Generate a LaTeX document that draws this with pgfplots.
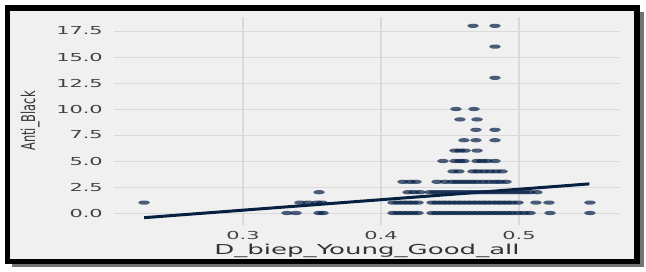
\documentclass[border=0pt]{standalone}
\usepackage{pgfplots}
\pgfplotsset{compat=1.18}
\usepackage{fontspec}
\setmainfont{DejaVu Sans}
\newfontfamily\tickfont[FakeStretch=1.9]{DejaVu Sans}
\newfontfamily\ylabfont[FakeStretch=0.6]{DejaVu Sans}
\definecolor{bg}{HTML}{F0F0F0}
\definecolor{gridc}{HTML}{D9D9D9}
\definecolor{dot}{RGB}{10,36,74}
\definecolor{fitline}{RGB}{6,32,66}
\definecolor{txt}{HTML}{444444}

\pgfplotstableread{
x y
0.4667 18
0.4826 18
0.4826 16
0.4826 13
0.4543 10
0.4674 10
0.4572 9
0.4696 9
0.4688 8
0.4826 8
0.4601 7
0.4688 7
0.4826 7
0.4536 6
0.4572 6
0.4609 6
0.4696 6
0.4449 5
0.4536 5
0.4572 5
0.4601 5
0.4696 5
0.4732 5
0.4768 5
0.4826 5
0.4522 4
0.4565 4
0.4667 4
0.4703 4
0.4746 4
0.4790 4
0.4833 4
0.4877 4
0.4159 3
0.4210 3
0.4254 3
0.4406 3
0.4464 3
0.4514 3
0.4551 3
0.4587 3
0.4623 3
0.4659 3
0.4696 3
0.4739 3
0.4783 3
0.4826 3
0.4862 3
0.4906 3
0.3551 2
0.4196 2
0.4239 2
0.4283 2
0.4355 2
0.4391 2
0.4428 2
0.4464 2
0.4500 2
0.4536 2
0.4572 2
0.4609 2
0.4645 2
0.4681 2
0.4717 2
0.4754 2
0.4790 2
0.4826 2
0.4862 2
0.4899 2
0.4935 2
0.4971 2
0.5007 2
0.5043 2
0.5080 2
0.5130 2
0.2283 1
0.3413 1
0.3471 1
0.3536 1
0.3572 1
0.4087 1
0.4123 1
0.4159 1
0.4196 1
0.4232 1
0.4268 1
0.4370 1
0.4406 1
0.4442 1
0.4478 1
0.4514 1
0.4551 1
0.4587 1
0.4623 1
0.4659 1
0.4696 1
0.4732 1
0.4768 1
0.4804 1
0.4841 1
0.4877 1
0.4913 1
0.4949 1
0.4993 1
0.5123 1
0.5217 1
0.5514 1
0.3319 0
0.3384 0
0.3551 0
0.3580 0
0.4087 0
0.4123 0
0.4159 0
0.4196 0
0.4232 0
0.4268 0
0.4370 0
0.4406 0
0.4442 0
0.4478 0
0.4514 0
0.4551 0
0.4587 0
0.4623 0
0.4659 0
0.4696 0
0.4732 0
0.4768 0
0.4804 0
0.4841 0
0.4877 0
0.4913 0
0.4949 0
0.4993 0
0.5036 0
0.5080 0
0.5225 0
0.5514 0
}\scatterdata

\pgfplotstableread{
x y
0.2283 -0.45
0.5510 2.80
}\fitdata

\begin{document}
\begin{tikzpicture}[x=1pt,y=1pt]
\path[use as bounding box] (0,0) rectangle (646,-272);
\fill[black!55] (12,-12) rectangle (643.5,-267.5);
\fill[bg] (7.5,-7.8) rectangle (637,-261.5);
\draw[line width=5.5pt] (7.5,-7.8) rectangle (637,-261.5);
\begin{axis}[
  at={(114pt,-17pt)}, anchor=north west,
  scale only axis, width=506pt, height=208pt,
  xmin=0.2065, xmax=0.5732, ymin=-1.154, ymax=18.85,
  axis line style={draw=none},
  axis background/.style={fill=bg},
  xtick={0.3,0.4,0.5},
  ytick={0,2.5,5,7.5,10,12.5,15,17.5},
  major tick length=0pt,
  xmajorgrids, ymajorgrids,
  major x grid style={gridc, line width=1.6pt},
  major y grid style={gridc, line width=0.8pt},
  tick label style={font=\tickfont\fontsize{11}{13}\selectfont, text=txt, inner sep=0pt},
  /pgf/number format/.cd, fixed, fixed zerofill, precision=1, assume math mode=true,
  /pgfplots/.cd,
  yticklabel style={anchor=east, xshift=-11pt},
  xticklabel style={anchor=north, yshift=-6.5pt},
  xlabel={D\_biep\_Young\_Good\_all},
  xlabel style={at={(axis description cs:0.5,-0.144)}, anchor=base, inner sep=0pt,
    font=\tickfont\fontsize{13.7}{16}\selectfont, text=black!80},
  ylabel={Anti\_Black},
  ylabel style={at={(axis description cs:-0.1561,0.5)}, anchor=base, inner sep=0pt,
    font=\ylabfont\fontsize{19}{22}\selectfont, text=black!80},
]
\addplot[only marks, mark=*, mark size=2.1pt,
  mark options={xscale=2.8, fill=dot, fill opacity=0.72, draw opacity=0}]
  table[x=x, y=y] {\scatterdata};
\addplot[fitline, line width=3pt, no marks] table[x=x, y=y] {\fitdata};
\end{axis}
\end{tikzpicture}
\end{document}
